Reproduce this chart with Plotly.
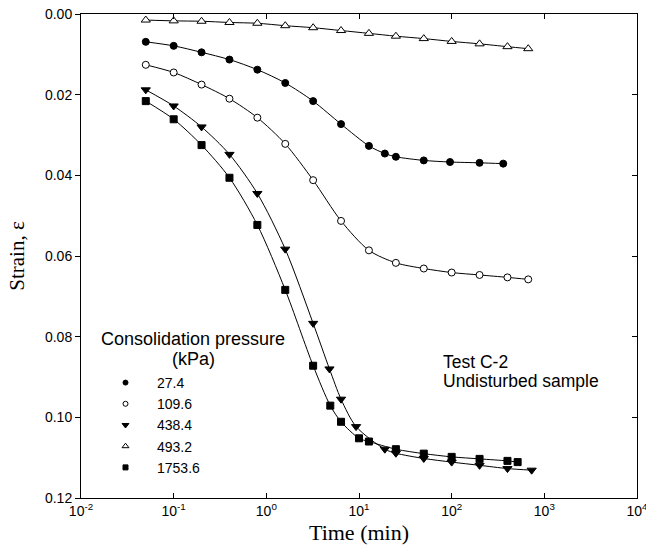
import plotly.graph_objects as go

# ---- data (time in min, strain) ----
t_274 = [0.05, 0.1, 0.2, 0.4, 0.8, 1.6, 3.2, 6.4, 12.8, 19, 25, 50, 96, 200, 360]
e_274 = [0.0069, 0.0079, 0.0095, 0.0113, 0.0138, 0.0171, 0.0216, 0.0273, 0.0327, 0.0346, 0.0354, 0.0363, 0.0367, 0.0369, 0.0371]

t_1096 = [0.05, 0.1, 0.2, 0.4, 0.8, 1.6, 3.2, 6.4, 12.8, 25, 50, 100, 200, 400, 670]
e_1096 = [0.0126, 0.0145, 0.0175, 0.0210, 0.0257, 0.0322, 0.0412, 0.0513, 0.0586, 0.0617, 0.0631, 0.0641, 0.0647, 0.0653, 0.0658]

t_4384 = [0.05, 0.1, 0.2, 0.4, 0.8, 1.6, 3.2, 4.8, 6.4, 9.3, 19, 25, 50, 100, 200, 400, 730]
e_4384 = [0.0188, 0.0228, 0.0280, 0.0348, 0.0445, 0.0583, 0.0767, 0.0880, 0.0955, 0.1023, 0.1079, 0.1089, 0.1102, 0.1111, 0.1119, 0.1127, 0.1131]

t_4932 = [0.05, 0.1, 0.2, 0.4, 0.8, 1.6, 3.2, 6.4, 12.8, 25, 50, 100, 200, 400, 670]
e_4932 = [0.0015, 0.0017, 0.0018, 0.0021, 0.0023, 0.0029, 0.0034, 0.0041, 0.0048, 0.0055, 0.0061, 0.0068, 0.0074, 0.0081, 0.0086]

t_17536 = [0.05, 0.1, 0.2, 0.4, 0.8, 1.6, 3.2, 4.9, 6.4, 10, 12.8, 25, 50, 100, 200, 400, 515]
e_17536 = [0.0216, 0.0261, 0.0325, 0.0406, 0.0523, 0.0684, 0.0872, 0.0971, 0.1011, 0.1052, 0.1060, 0.1079, 0.1090, 0.1098, 0.1103, 0.1108, 0.1111]

series_names = ["27.4", "109.6", "438.4", "493.2", "1753.6"]
y_ticks = [0.00, 0.02, 0.04, 0.06, 0.08, 0.10, 0.12]
x_ticks = [0.01, 0.1, 1, 10, 100, 1000, 10000]
x_ticktext = ["10<sup>-2</sup>", "10<sup>-1</sup>", "10<sup>0</sup>", "10<sup>1</sup>",
              "10<sup>2</sup>", "10<sup>3</sup>", "10<sup>4</sup>"]

SANS = "Liberation Sans, Arial, sans-serif"
SERIF = "Liberation Serif, Times New Roman, serif"

styles = [
    dict(symbol="circle", color="black", size=7),
    dict(symbol="circle", color="white", size=7),
    dict(symbol="triangle-down", color="black", size=8),
    dict(symbol="triangle-up", color="white", size=8),
    dict(symbol="square", color="black", size=7),
]
data = [(t_274, e_274), (t_1096, e_1096), (t_4384, e_4384), (t_4932, e_4932), (t_17536, e_17536)]

fig = go.Figure()
for (tx, ey), name, st in zip(data, series_names, styles):
    fig.add_trace(go.Scatter(
        x=tx, y=ey, name=name, mode="lines+markers", showlegend=False,
        line=dict(color="black", width=1, shape="spline", smoothing=0.8),
        marker=dict(symbol=st["symbol"], color=st["color"], size=st["size"],
                    line=dict(color="black", width=1)),
    ))
# legend entries (smaller symbols, no line)
for name, st in zip(series_names, styles):
    fig.add_trace(go.Scatter(
        x=[None], y=[None], name=name, mode="markers", showlegend=True,
        marker=dict(symbol=st["symbol"], color=st["color"], size=st["size"] - 2,
                    line=dict(color="black", width=1)),
    ))

# empty trace to activate right-side tick axis
fig.add_trace(go.Scatter(x=[], y=[], yaxis="y2", showlegend=False, hoverinfo="skip"))

L, T, R, B = 81, 14, 637, 498  # plot area in page pixels
W, H = 646, 556

def px(xp):
    return (xp - L) / (R - L)

def py(yp):
    return (B - yp) / (B - T)

ann = []
def text(s, xp, yp, anchor="center", size=18):
    ann.append(dict(text=s, xref="paper", yref="paper", x=px(xp), y=py(yp),
                    xanchor=anchor, yanchor="middle", showarrow=False,
                    font=dict(family=SANS, size=size, color="black")))

text("Consolidation pressure", 193, 339)
text("(kPa)", 193, 359)
text("Test C-2", 441, 362, anchor="left", size=17.5)
text("Undisturbed sample", 441, 381, anchor="left", size=17.5)

fig.update_layout(
    width=W, height=H,
    margin=dict(l=L, r=W - R, t=T, b=H - B, autoexpand=False),
    paper_bgcolor="white", plot_bgcolor="white",
    font=dict(family=SANS, color="black", size=14),
    showlegend=True,
    legend=dict(x=px(94), y=py(367), xanchor="left", yanchor="top",
                bgcolor="rgba(0,0,0,0)", borderwidth=0, itemwidth=53,
                font=dict(family=SANS, size=14, color="black"),
                itemsizing="trace", tracegroupgap=0),
    xaxis=dict(type="log", range=[-2, 4], tickvals=x_ticks, ticktext=x_ticktext,
               showline=True, linecolor="black", linewidth=1, mirror="ticks",
               ticks="inside", ticklen=5, tickcolor="black", showgrid=False, zeroline=False,
               tickfont=dict(family=SANS, size=14), ticklabeloverflow="allow",
               title=dict(text="Time (min)", font=dict(family=SERIF, size=22), standoff=6)),
    yaxis=dict(range=[0.12, 0], tickvals=y_ticks, tickformat=".2f",
               showline=True, linecolor="black", linewidth=1, mirror=True,
               ticks="outside", ticklen=5, tickcolor="black", showgrid=False, zeroline=False,
               tickfont=dict(family=SANS, size=14), ticklabeloverflow="allow",
               title=dict(text="Strain, ε", font=dict(family=SERIF, size=21), standoff=14)),
    yaxis2=dict(range=[0.12, 0], tickvals=y_ticks, overlaying="y", side="right",
                ticks="inside", ticklen=5, tickcolor="black", showticklabels=False,
                showgrid=False, zeroline=False, showline=False),
    annotations=ann,
)

fig.write_html("out.html", config={"displayModeBar": False},
               post_script="document.body.style.margin='0px';")
